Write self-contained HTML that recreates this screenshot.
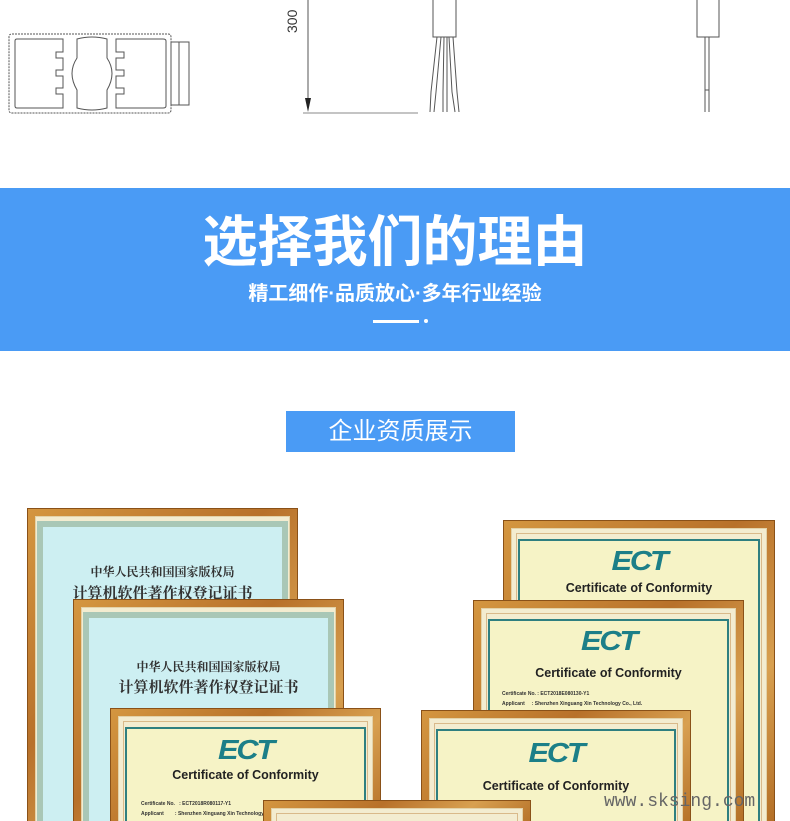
<!DOCTYPE html>
<html><head><meta charset="utf-8">
<style>
*{margin:0;padding:0;box-sizing:border-box}
html{width:790px;height:821px;overflow:hidden}
body{width:790px;height:821px;background:#fff;position:relative;overflow:hidden;font-family:"Liberation Sans","Noto Sans CJK SC",sans-serif}
.abs{position:absolute}
.band{left:0;top:188px;width:790px;height:163px;background:#4a9bf5}
.f{position:absolute;background:linear-gradient(135deg,#d49640,#b8712a 40%,#d8a050 70%,#b06a22);border:1px solid #8a5118;padding:7px}
.f .c{position:absolute;left:7px;top:7px;right:7px;bottom:-20px;background:#f3ecd0;border:1px solid #e3d2a8}
.f .c:before{content:"";position:absolute;left:4px;top:4px;right:4px;bottom:4px;border:1px solid #d9b98a}
.pb{position:absolute;left:9px;top:12px;right:9px;bottom:-20px;background:#cdeff2;border:6px solid #a9c7b6}
.pb .t1{position:absolute;left:0;right:0;text-align:center;font-family:"Liberation Serif","Noto Serif CJK SC",serif;font-weight:bold;color:#333}
.pe{position:absolute;left:14px;top:18px;right:14px;bottom:-20px;background:#f6f3c6;border:2px solid #2f7f80}
.ect{position:absolute;left:0;right:0;text-align:center;font-weight:bold;font-style:italic;color:#1c7f88;font-size:28px;letter-spacing:-2px;transform:scaleX(1.1)}
.coc{position:absolute;left:0;right:0;text-align:center;font-weight:bold;color:#222;font-size:12.5px}
.sm{position:absolute;font-size:5px;color:#333;font-weight:bold}
</style></head><body>

<svg class="abs" style="left:0;top:0" width="790" height="130">
 <g fill="none" stroke="#555" stroke-width="1">
  <path d="M12 34 H168 Q171 34 171 37 V110 Q171 113 168 113 H12 Q9 113 9 110 V37 Q9 34 12 34Z" stroke-dasharray="2 1"/>
  <rect x="171" y="42" width="18" height="63"/><line x1="179" y1="42" x2="179" y2="105"/>
  <path d="M17 39 H63 V52 H56 V58 H63 V70 H56 V76 H63 V88 H56 V94 H63 V108 H17 Q15 108 15 106 V41 Q15 39 17 39Z"/>
  <path d="M116 39 H163 Q166 39 166 41 V106 Q166 108 163 108 H116 V94 H124 V88 H116 V76 H124 V70 H116 V58 H124 V52 H116Z"/>
  <path d="M77 39 Q92 35 107 39 V58 Q117 73 107 90 V108 Q92 112 77 108 V90 Q67 73 77 58Z"/>
  <line x1="308" y1="0" x2="308" y2="104"/>
  <line x1="303" y1="113" x2="418" y2="113" stroke="#888"/>
  <rect x="433" y="-1" width="23" height="38"/>
  <path d="M437 37 L431 92 L430 112 M441 37 L436 92 L434 112 M444 37 L443 92 V112 M447 37 V92 V112 M449 37 L452 92 L455 112 M453 37 L457 92 L459 112"/>
  <rect x="697" y="-1" width="22" height="38"/>
  <path d="M705 37 V112 M709 37 V112 M705 90 H709"/>
 </g>
 <path d="M305 98 L311 98 L308 112Z" fill="#222"/>
 <text transform="translate(297,33) rotate(-90)" font-family="Liberation Sans" font-size="14" fill="#333">300</text>
</svg>

<div class="abs band"></div>
<div class="abs" style="left:0;top:207px;width:790px;text-align:center;color:#fff;font-size:55px;font-weight:bold;line-height:70px">选择我们的理由</div>
<div class="abs" style="left:0;top:281px;width:790px;text-align:center;color:#fff;font-size:20px;font-weight:bold;line-height:26px">精工细作·品质放心·多年行业经验</div>
<div class="abs" style="left:373px;top:320px;width:46px;height:3px;background:#fff"></div>
<div class="abs" style="left:424px;top:319px;width:4px;height:4px;background:#fff;border-radius:2px"></div>

<div class="abs" style="left:286px;top:411px;width:229px;height:41px;background:#4a9bf5;color:#fff;font-size:24px;text-align:center;line-height:41px">企业资质展示</div>

<div class="f" style="left:27px;top:508px;width:271px;height:330px"><div class="c"></div><div class="pb"><div class="t1" style="top:36px;font-size:12px">中华人民共和国国家版权局</div><div class="t1" style="top:55px;font-size:15px">计算机软件著作权登记证书</div></div></div>
<div class="f" style="left:73px;top:599px;width:271px;height:240px"><div class="c"></div><div class="pb"><div class="t1" style="top:40px;font-size:12px">中华人民共和国国家版权局</div><div class="t1" style="top:58px;font-size:15px">计算机软件著作权登记证书</div></div></div>
<div class="f" style="left:110px;top:708px;width:271px;height:130px"><div class="c"></div><div class="pe"><div class="ect" style="top:5px">ECT</div><div class="coc" style="top:39px">Certificate of Conformity</div><div class="sm" style="left:14px;top:72px">Certificate No.&nbsp;&nbsp; : ECT2018R080117-Y1</div><div class="sm" style="left:14px;top:82px">Applicant&nbsp;&nbsp;&nbsp;&nbsp;&nbsp;&nbsp;&nbsp; : Shenzhen Xinguang Xin Technology</div></div></div>

<div class="f" style="left:503px;top:520px;width:272px;height:320px"><div class="c"></div><div class="pe"><div class="ect" style="top:4px">ECT</div><div class="coc" style="top:40px">Certificate of Conformity</div></div></div>
<div class="f" style="left:473px;top:600px;width:271px;height:240px"><div class="c"></div><div class="pe"><div class="ect" style="top:4px">ECT</div><div class="coc" style="top:45px">Certificate of Conformity</div><div class="sm" style="left:12px;top:70px">Certificate No. : ECT2018E080130-Y1</div><div class="sm" style="left:12px;top:80px">Applicant&nbsp;&nbsp;&nbsp;&nbsp; : Shenzhen Xinguang Xin Technology Co., Ltd.</div></div></div>
<div class="f" style="left:421px;top:710px;width:270px;height:130px"><div class="c"></div><div class="pe"><div class="ect" style="top:6px">ECT</div><div class="coc" style="top:48px">Certificate of Conformity</div></div></div>
<div class="f" style="left:263px;top:800px;width:268px;height:40px"><div class="c"></div></div>

<div class="abs" style="left:604px;top:792px;font-family:'Liberation Mono',monospace;font-size:18px;color:#666">www.sksing.com</div>
</body></html>
